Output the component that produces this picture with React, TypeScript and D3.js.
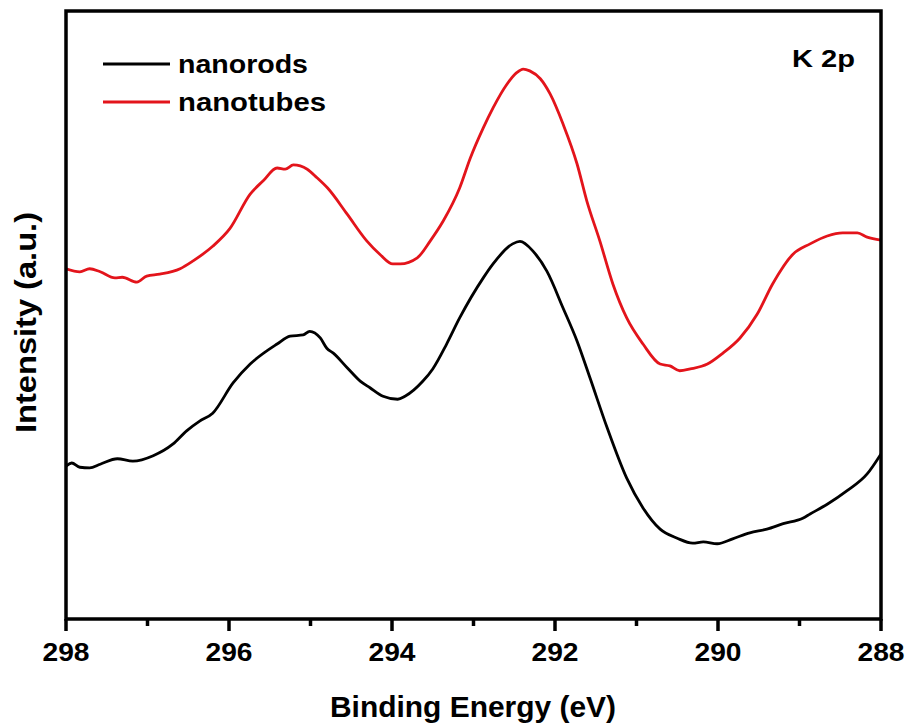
import React from "react";
import * as d3 from "d3";

const energy = [298.0, 297.93, 297.83, 297.71, 297.58, 297.37, 297.18, 296.93, 296.69, 296.52, 296.36, 296.2, 295.95, 295.74, 295.41, 295.25, 295.09, 295.01, 294.88, 294.8, 294.72, 294.55, 294.39, 294.27, 294.11, 293.93, 293.84, 293.62, 293.5, 293.33, 293.17, 292.88, 292.76, 292.52, 292.43, 292.27, 292.1, 291.9, 291.73, 291.57, 291.36, 291.12, 290.92, 290.71, 290.5, 290.31, 290.18, 290.01, 289.82, 289.61, 289.4, 289.2, 288.96, 288.87, 288.66, 288.42, 288.17, 288.0];
const nanorods = [25.2, 25.7, 25.0, 24.9, 25.5, 26.4, 26.0, 26.9, 28.8, 31.0, 32.6, 33.9, 38.9, 42.0, 45.3, 46.6, 46.8, 47.4, 46.3, 44.6, 43.8, 41.4, 39.2, 38.1, 36.7, 36.2, 36.7, 39.2, 41.2, 45.3, 49.6, 56.2, 58.5, 61.8, 62.2, 60.6, 57.3, 51.2, 45.8, 39.7, 31.5, 23.2, 18.3, 14.8, 13.3, 12.5, 12.7, 12.4, 13.2, 14.2, 14.8, 15.7, 16.6, 17.3, 18.9, 21.1, 23.9, 27.2];

const energyTubes = [298.0, 297.83, 297.71, 297.58, 297.4, 297.31, 297.13, 297.01, 296.85, 296.6, 296.44, 296.2, 295.99, 295.74, 295.58, 295.41, 295.31, 295.21, 295.04, 294.92, 294.79, 294.55, 294.31, 294.15, 293.99, 293.9, 293.69, 293.53, 293.37, 293.17, 293.04, 292.88, 292.76, 292.59, 292.47, 292.39, 292.31, 292.18, 292.06, 291.9, 291.73, 291.61, 291.45, 291.29, 291.12, 290.92, 290.71, 290.59, 290.47, 290.34, 290.13, 289.94, 289.73, 289.52, 289.33, 289.08, 288.87, 288.66, 288.47, 288.29, 288.17, 288.0];
const nanotubes = [57.7, 57.2, 57.7, 57.2, 56.2, 56.3, 55.5, 56.5, 56.8, 57.7, 59.0, 61.4, 64.3, 70.0, 72.2, 74.3, 74.1, 74.8, 74.1, 72.7, 71.0, 66.7, 62.3, 60.1, 58.5, 58.5, 59.5, 62.3, 65.6, 71.0, 75.9, 80.9, 84.2, 88.1, 90.0, 90.6, 90.3, 89.0, 86.5, 81.5, 75.0, 68.9, 62.3, 55.2, 49.6, 45.3, 42.0, 41.7, 40.9, 41.2, 42.0, 43.8, 46.3, 50.2, 55.2, 60.1, 61.8, 63.1, 63.6, 63.6, 62.9, 62.4];

const majorTicks = [298, 296, 294, 292, 290, 288];
const minorTicks = [297, 295, 293, 291, 289];
const seriesNames = ["nanorods", "nanotubes"];
const seriesColors = ["#000000", "#e3141b"];

const W = 911, H = 727;
const L = 66, R = 881, T = 11, B = 619;

export default function App() {
  const x = d3.scaleLinear().domain([298, 288]).range([L, R]);
  const y = d3.scaleLinear().domain([0, 100]).range([B, T + 1]);
  const line = d3.line<[number, number]>().x(d => x(d[0])).y(d => y(d[1])).curve(d3.curveMonotoneX);
  const rods = line(energy.map((e, i) => [e, nanorods[i]] as [number, number]))!;
  const tubes = line(energyTubes.map((e, i) => [e, nanotubes[i]] as [number, number]))!;
  const font = "'Liberation Sans', Arial, sans-serif";
  return (
    <svg width={W} height={H} style={{ position: "absolute", left: 0, top: 0, background: "#fff" }}>
      <rect x={0} y={0} width={W} height={H} fill="#fff" />
      <defs>
        <clipPath id="plot"><rect x={L} y={T} width={R - L} height={B - T} /></clipPath>
      </defs>
      <g clipPath="url(#plot)">
        <path d={rods} fill="none" stroke={seriesColors[0]} strokeWidth={2.8} strokeLinejoin="round" />
        <path d={tubes} fill="none" stroke={seriesColors[1]} strokeWidth={2.8} strokeLinejoin="round" />
      </g>
      <rect x={L} y={T} width={R - L} height={B - T} fill="none" stroke="#000" strokeWidth={3.5} />
      {majorTicks.map(t => (
        <line key={"M" + t} x1={x(t)} x2={x(t)} y1={B} y2={B + 12} stroke="#000" strokeWidth={3.5} />
      ))}
      {minorTicks.map(t => (
        <line key={"m" + t} x1={x(t)} x2={x(t)} y1={B} y2={B + 7} stroke="#000" strokeWidth={3.5} />
      ))}
      {majorTicks.map(t => (
        <text key={"l" + t} x={x(t)} y={661} textAnchor="middle" fontFamily={font} fontWeight="bold" fontSize={25}
          textLength={47} lengthAdjust="spacingAndGlyphs">{t}</text>
      ))}
      <text x={473} y={717} textAnchor="middle" fontFamily={font} fontWeight="bold" fontSize={30}
        textLength={286} lengthAdjust="spacingAndGlyphs">Binding Energy (eV)</text>
      <text transform={`translate(36,322.5) rotate(-90)`} textAnchor="middle" fontFamily={font} fontWeight="bold" fontSize={30}
        textLength={221} lengthAdjust="spacingAndGlyphs">Intensity (a.u.)</text>
      {seriesNames.map((n, i) => (
        <g key={n}>
          <line x1={103} x2={170} y1={64 + i * 38} y2={64 + i * 38} stroke={seriesColors[i]} strokeWidth={2.8} />
          <text x={178} y={73 + i * 38} fontFamily={font} fontWeight="bold" fontSize={25}
            textLength={i === 0 ? 130 : 148} lengthAdjust="spacingAndGlyphs">{n}</text>
        </g>
      ))}
      <text x={792} y={67} fontFamily={font} fontWeight="bold" fontSize={24}
        textLength={63} lengthAdjust="spacingAndGlyphs">K 2p</text>
    </svg>
  );
}
